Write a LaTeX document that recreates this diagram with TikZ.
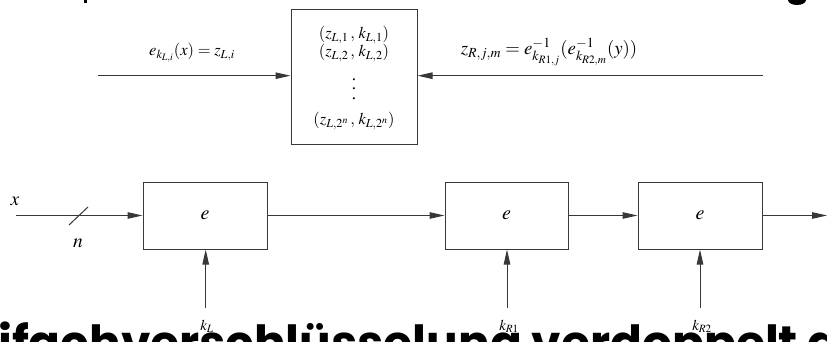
\documentclass[tikz,border=0pt]{standalone}
\usepackage{mathptmx}
\usepackage{fontspec}
\setmainfont{Liberation Serif}
\newfontfamily\titlefont{Poppins}
\usetikzlibrary{arrows.meta}

\begin{document}
\begin{tikzpicture}[x=1pt,y=-1pt,
  wire/.style={draw=black!78, line width=1pt},
  arr/.style={wire, -{Triangle[length=15pt,width=6.5pt]}},
  blk/.style={draw=black!78, line width=1pt, inner sep=0pt, minimum height=67pt},
  lbl/.style={font=\fontsize{19.5}{22}\selectfont, inner sep=0pt},
  rowlbl/.style={font=\fontsize{16.5}{18}\selectfont, inner sep=0pt},
  klbl/.style={font=\fontsize{15}{17}\selectfont, inner sep=0pt},
]
\useasboundingbox (0,0) rectangle (827,342);

% fragments of the heading line above
\fill (84,0) rectangle (87,3);
\fill (797,0) ellipse (9 and 5);

% lookup table
\node[draw=black!78, line width=1pt, minimum width=126pt, minimum height=135.5pt, inner sep=0pt] (table) at (354,77.25) {};
\node[rowlbl] (r1) at (354,35) {$(z_{L,1}\,,\,k_{L,1})$};
\node[rowlbl] (r2) at (354,53) {$(z_{L,2}\,,\,k_{L,2})$};
\node[align=center, font=\fontsize{17}{9.5}\selectfont, inner sep=0pt] (rd) at (354,89) {.\\.\\.};
\node[rowlbl] (rn) at (354,121) {$(z_{L,2^n}\,,\,k_{L,2^n})$};

\coordinate (lin) at (98,75.7);
\coordinate (rin) at (763,75.7);
\draw[arr] (lin) -- (lin -| table.west);
\draw[arr] (rin) -- (rin -| table.east);
\node[rowlbl] (lbL) at (192,53) {$e_{k_{L,i}}(x) = z_{L,i}$};
\node[font=\fontsize{18.8}{21}\selectfont, inner sep=0pt] (lbR) at (549,52) {$z_{R,j,m} = e^{-1}_{k_{R1,j}}(e^{-1}_{k_{R2,m}}(y))$};

% encryption chain
\node[blk, minimum width=124pt] (e1) at (205,215.5) {\fontsize{20}{22}\selectfont$e$};
\node[blk, minimum width=123pt] (e2) at (506.5,215.5) {\fontsize{20}{22}\selectfont$e$};
\node[blk, minimum width=124pt] (e3) at (700,215.5) {\fontsize{20}{22}\selectfont$e$};

\coordinate (xin) at (16,215.5);
\coordinate (xout) at (827,215.5);
\draw[arr] (xin) -- (e1);
\draw[arr] (e1) -- (e2);
\draw[arr] (e2) -- (e3);
\draw[arr] (e3) -- (xout);
\coordinate (s1) at (69,225);
\coordinate (s2) at (88,207);
\draw[wire] (s1) -- (s2);
\node[lbl] (xl) at (15,201) {$x$};
\node[lbl] (nl) at (78,243) {$n$};

\coordinate (k1) at (205.7,308);
\coordinate (k2) at (507,308);
\coordinate (k3) at (700,308);
\draw[arr] (k1) -- (k1 |- e1.south);
\draw[arr] (k2) -- (k2 |- e2.south);
\draw[arr] (k3) -- (k3 |- e3.south);
\node[klbl] (kl1) at (207,326) {$k_L$};
\node[klbl] (kl2) at (509,326) {$k_{R1}$};
\node[klbl] (kl3) at (702,326) {$k_{R2}$};

% slide heading below, partly outside the page
\node[anchor=base west, inner sep=0pt, font=\titlefont\bfseries\fontsize{47}{50}\selectfont] (head) at (-2,359) {ifachverschlüsselung verdoppelt d};
\end{tikzpicture}
\end{document}
